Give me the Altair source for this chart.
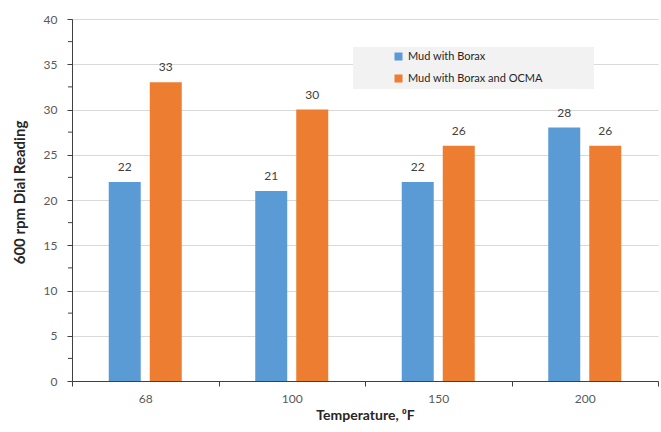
import altair as alt
import pandas as pd

categories = ["68", "100", "150", "200"]
borax = [22, 21, 22, 28]
borax_ocma = [33, 30, 26, 26]
series_names = ["Mud with Borax", "Mud with Borax and OCMA"]
colors = ["#5B9BD5", "#ED7D31"]
major_ticks = [0, 5, 10, 15, 20, 25, 30, 35, 40]
minor_ticks = [2.5, 7.5, 12.5, 17.5, 22.5, 27.5, 32.5, 37.5]

rows = []
for c, a, b in zip(categories, borax, borax_ocma):
    rows.append({"temp": c, "series": series_names[0], "value": a})
    rows.append({"temp": c, "series": series_names[1], "value": b})
df = pd.DataFrame(rows)
minor_df = pd.DataFrame({"v": minor_ticks})

FONT = "Lato"

x_enc = alt.X(
    "temp:N",
    sort=categories,
    scale=alt.Scale(paddingInner=0, paddingOuter=0),
    axis=alt.Axis(
        title="Temperature, ⁰F",
        labelAngle=0,
        tickBand="extent",
        tickSize=5,
        labelPadding=7,
        titlePadding=4,
        domainColor="#404040",
        tickColor="#404040",
        labelColor="#595959",
        labelFontSize=12,
        titleFontSize=14,
        titleFontWeight="bold",
        titleColor="#262626",
        grid=False,
    ),
)
y_enc = alt.Y(
    "value:Q",
    scale=alt.Scale(domain=[0, 40], nice=False),
    axis=alt.Axis(
        title="600 rpm Dial Reading",
        values=major_ticks,
        tickSize=5,
        labelPadding=10,
        titlePadding=16,
        titleY=173,
        domainColor="#404040",
        tickColor="#404040",
        labelColor="#595959",
        labelFontSize=12,
        titleFontSize=15,
        titleFontWeight="bold",
        titleColor="#262626",
        grid=True,
        gridColor="#d9d9d9",
    ),
)
xoff = alt.XOffset(
    "series:N",
    sort=series_names,
    scale=alt.Scale(paddingInner=0.22, paddingOuter=0.896),
)
color_enc = alt.Color(
    "series:N",
    sort=series_names,
    scale=alt.Scale(domain=series_names, range=colors),
    legend=alt.Legend(
        title=None,
        orient="none",
        legendX=321,
        legendY=32,
        padding=0,
        symbolType="square",
        symbolSize=64,
        symbolStrokeWidth=0,
        labelOffset=4,
        rowPadding=10,
        labelFontSize=11,
        labelColor="#262626",
        labelFont=FONT,
        labelLimit=400,
    ),
)

legend_box = alt.Chart(pd.DataFrame({"box": [0]})).mark_rect(color="#f2f2f2").encode(
    x=alt.value(281), x2=alt.value(522), y=alt.value(28), y2=alt.value(70)
)
bars = alt.Chart(df).mark_bar().encode(
    x=x_enc, y=y_enc, xOffset=xoff, color=color_enc
)
labels = alt.Chart(df).mark_text(
    baseline="bottom", dy=-8, fontSize=12, color="#404040", font=FONT
).encode(
    x=alt.X("temp:N", sort=categories),
    y="value:Q",
    xOffset=alt.XOffset("series:N", sort=series_names),
    text="value:Q",
)
minor = alt.Chart(minor_df).mark_rule(color="#404040").encode(
    y="v:Q", x=alt.value(-4), x2=alt.value(0)
)

chart = (
    alt.layer(legend_box, bars, labels, minor)
    .properties(
        width=586,
        height=362,
        autosize=alt.AutoSizeParams(type="none"),
        padding={"left": 72, "top": 19, "right": 3, "bottom": 51},
    )
    .configure(font=FONT)
    .configure_view(stroke=None)
    .configure_bar(size=32)
)

chart.save("out.html", embed_options={"renderer": "svg", "actions": False})
